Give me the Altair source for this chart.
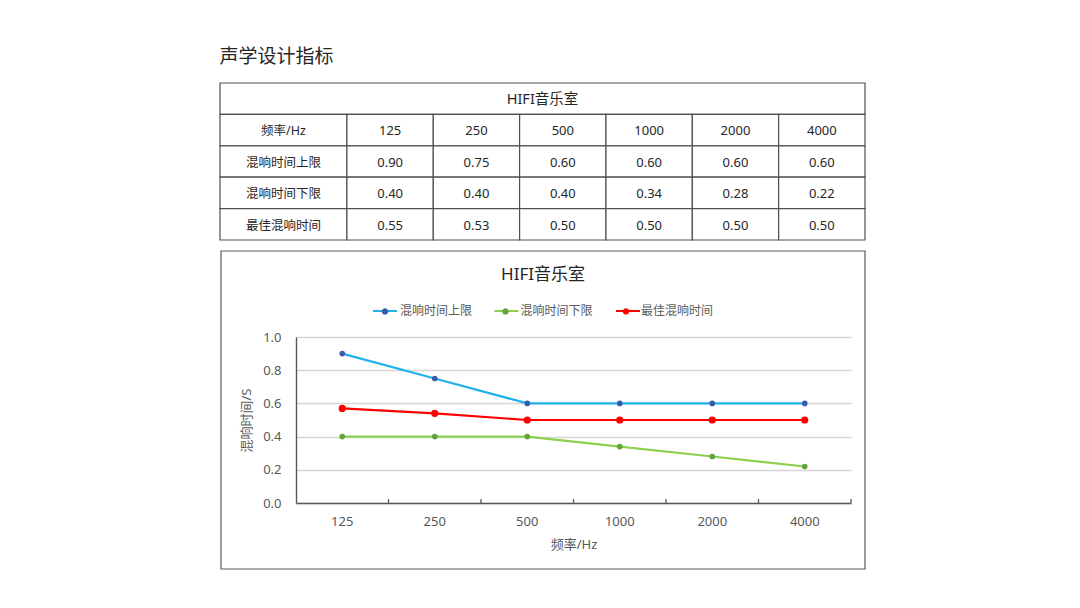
import altair as alt
import pandas as pd

# ---------------- data ----------------
freqs = ["125", "250", "500", "1000", "2000", "4000"]
series = ["混响时间上限", "混响时间下限", "最佳混响时间"]
upper = [0.90, 0.75, 0.60, 0.60, 0.60, 0.60]
lower = [0.40, 0.40, 0.40, 0.34, 0.28, 0.22]
best_table = [0.55, 0.53, 0.50, 0.50, 0.50, 0.50]
best_plot = [0.57, 0.54, 0.50, 0.50, 0.50, 0.50]

page_title = "声学设计指标"
table_title = "HIFI音乐室"
chart_title = "HIFI音乐室"
freq_label = "频率/Hz"
y_label = "混响时间/S"
y_ticks = [0.0, 0.2, 0.4, 0.6, 0.8, 1.0]

line_colors = ["#1fb2ea", "#8dd04f", "#ff0000"]
point_colors = ["#3a5ba9", "#62a33c", "#ff0000"]

FONT = "Noto Sans, Noto Sans CJK SC"
TXT = "#262626"
AX = "#595959"

# ---------------- table ----------------
first_w = 1.47
edges = [0, first_w] + [first_w + i + 1 for i in range(len(freqs))]
total = edges[-1]
cells = [dict(r0=0, r1=1, x0=0, x1=total, label=table_title, kind="title")]
row_labels = [freq_label] + series
row_vals = [freqs,
            [f"{v:.2f}" for v in upper],
            [f"{v:.2f}" for v in lower],
            [f"{v:.2f}" for v in best_table]]
for i, (lab, vals) in enumerate(zip(row_labels, row_vals)):
    r = i + 1
    cells.append(dict(r0=r, r1=r + 1, x0=0, x1=first_w, label=lab, kind="head"))
    for j, v in enumerate(vals):
        cells.append(dict(r0=r, r1=r + 1, x0=edges[j + 1], x1=edges[j + 2], label=v, kind="num"))
tdf = pd.DataFrame(cells)
tdf["xc"] = (tdf["x0"] + tdf["x1"]) / 2
tdf["yc"] = (tdf["r0"] + tdf["r1"]) / 2 + 0.04


def tx():
    return alt.Scale(domain=[0, total], range=[-76, 569], nice=False, zero=False)


def ty():
    return alt.Scale(domain=[0, 5], range=[-254, -97], nice=False, zero=False)


tbase = alt.Chart(tdf)
t_rect = tbase.mark_rect(fill="white", stroke="#505050", strokeWidth=1.2).encode(
    x=alt.X("x0:Q", scale=tx(), axis=None), x2="x1:Q",
    y=alt.Y("r0:Q", scale=ty(), axis=None), y2="r1:Q",
)


def ttext(kind, size):
    return tbase.transform_filter(alt.datum.kind == kind).mark_text(
        font=FONT, fontSize=size, color=TXT, align="center", baseline="middle"
    ).encode(
        x=alt.X("xc:Q", scale=tx(), axis=None),
        y=alt.Y("yc:Q", scale=ty(), axis=None),
        text="label:N",
    )


# ---------------- frame + chart title ----------------
one = pd.DataFrame({"t": [chart_title]})
frame = alt.Chart(one).mark_rect(filled=False, stroke="#595959", strokeWidth=1.2).encode(
    x=alt.value(-75), x2=alt.value(569), y=alt.value(-86), y2=alt.value(232)
)
ctitle = alt.Chart(one).mark_text(
    font=FONT, fontSize=17, color=TXT, align="center", baseline="middle"
).encode(x=alt.value(247), y=alt.value(-62), text="t:N")

# ---------------- line chart ----------------
rows = []
for s, vals in zip(series, [upper, lower, best_plot]):
    for f, v in zip(freqs, vals):
        rows.append(dict(freq=f, series=s, value=v))
ldf = pd.DataFrame(rows)
fdf = pd.DataFrame({"freq": freqs})


def xs():
    return alt.Scale(type="band", paddingInner=0, paddingOuter=0, domain=freqs)


def ys():
    return alt.Scale(domain=[0, 1], nice=False)


legend_common = dict(
    orient="none", legendX=76, legendY=-39, direction="horizontal", title=None,
    symbolSize=576, symbolStrokeWidth=2, labelFont=FONT, labelFontSize=12,
    labelColor=AX, labelOffset=2, padding=0,
)

# line part of the legend (no labels; labels come with the dot legend below)
lines = alt.Chart(ldf).mark_line(strokeWidth=2.2).encode(
    x=alt.X("freq:N", sort=freqs, scale=xs(), title=freq_label,
            axis=alt.Axis(orient="bottom", labelAngle=0, ticks=False, tickSize=0,
                          labelPadding=12, labelFont=FONT, labelFontSize=13,
                          labelColor=AX, domainColor=AX, domainWidth=1.4,
                          titleFont=FONT, titleFontSize=13, titleFontWeight="normal",
                          titleColor=AX, titlePadding=10, grid=False)),
    y=alt.Y("value:Q", scale=ys(), title=y_label,
            axis=alt.Axis(orient="left", values=y_ticks, format=".1f", grid=True,
                          gridColor="#d6d6d6", gridWidth=1.5, ticks=False, tickSize=0,
                          labelPadding=15, labelFont=FONT, labelFontSize=13,
                          labelColor=AX, domainColor=AX, domainWidth=1.4,
                          titleFont=FONT, titleFontSize=13, titleFontWeight="normal",
                          titleColor=AX, titlePadding=9)),
    stroke=alt.Stroke("series:N", scale=alt.Scale(domain=series, range=line_colors),
                      legend=alt.Legend(symbolType="M-1,0H1", labelExpr="''",
                                        columnPadding=89.5, **legend_common)),
)

# inward tick marks at the band boundaries of the category axis
ticks = alt.Chart(fdf).mark_rule(color=AX, strokeWidth=1.3).encode(
    x=alt.X("freq:N", sort=freqs, scale=xs(), bandPosition=1, axis=None),
    y=alt.value(166), y2=alt.value(162),
)

dot_path = ("M-1,0M1,0M-0.27,0A0.27,0.27 0 1,0 0.27,0"
            "A0.27,0.27 0 1,0 -0.27,0Z")
fill_enc = alt.Fill("series:N", sort=series, scale=alt.Scale(range=point_colors),
                    legend=alt.Legend(symbolType=dot_path, symbolStrokeColor="transparent",
                                      columnPadding=16.5, **legend_common))

pts_a = alt.Chart(ldf).transform_filter(alt.datum.series != series[2]).mark_point(
    filled=True, opacity=1, size=32).encode(
    x=alt.X("freq:N", sort=freqs, scale=xs(), axis=None),
    y=alt.Y("value:Q", scale=ys(), axis=None),
    fill=fill_enc,
)
pts_b = alt.Chart(ldf).transform_filter(alt.datum.series == series[2]).mark_point(
    filled=True, opacity=1, size=52).encode(
    x=alt.X("freq:N", sort=freqs, scale=xs(), axis=None),
    y=alt.Y("value:Q", scale=ys(), axis=None),
    fill=fill_enc,
)

chart = alt.layer(
    t_rect, ttext("title", 14.5), ttext("head", 12.5), ttext("num", 13),
    frame, ctitle, lines, ticks, pts_a, pts_b
).resolve_scale(
    x="independent", y="independent"
).properties(
    width=555, height=166,
    title=alt.TitleParams(text=page_title, anchor="start", frame="bounds", fontSize=19,
                          fontWeight="normal", color=TXT, font=FONT, offset=15),
    autosize=alt.AutoSizeParams(type="none"),
    padding={"left": 288, "top": 329, "right": 215, "bottom": 90},
).configure_view(stroke=None)

chart.save("out.html", embed_options={"renderer": "svg", "actions": False})
